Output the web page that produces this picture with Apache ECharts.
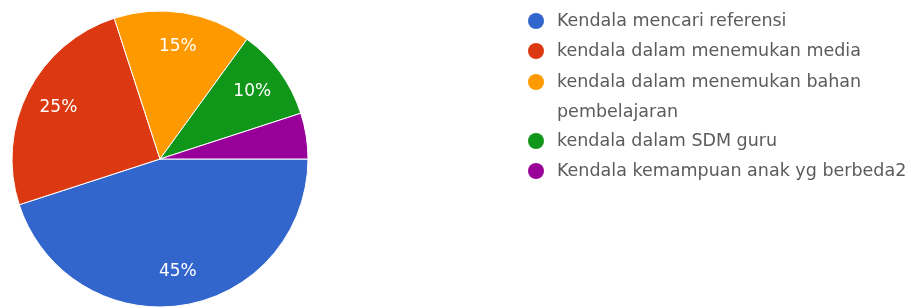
<!DOCTYPE html>
<html>
<head>
<meta charset="utf-8">
<script src="https://cdn.jsdelivr.net/npm/echarts@6/dist/echarts.min.js"></script>
<style>
html,body{margin:0;padding:0;background:#fff;}
#chart{width:908px;height:307px;}
</style>
</head>
<body>
<div id="chart"></div>
<script>
const categories = [
  'Kendala mencari referensi',
  'kendala dalam menemukan media',
  'kendala dalam menemukan bahan\npembelajaran',
  'kendala dalam SDM guru',
  'Kendala kemampuan anak yg berbeda2'
];
const values = [45, 25, 15, 10, 5];
const colors = ['#3366cc', '#dc3912', '#ff9900', '#109618', '#990099'];

const FONT = 'DejaVu Sans';
const legendCenters = [21, 51, 82, 141, 171];

const legends = categories.map((name, i) => {
  const multi = name.indexOf('\n') >= 0;
  const lh = multi ? 30 : 20;
  return {
    data: [name],
    orient: 'vertical',
    left: 528,
    top: multi ? legendCenters[i] - 45 : legendCenters[i] - lh / 2,
    icon: 'circle',
    itemWidth: 16,
    itemHeight: 16,
    padding: 0,
    itemStyle: { borderWidth: 0 },
    selectedMode: false,
    formatter: multi ? (n => '\n' + n) : (n => n),
    textStyle: {
      fontFamily: FONT,
      fontSize: 17.5,
      color: '#5b5b5b',
      lineHeight: lh,
      padding: [0, 0, 0, 8]
    }
  };
});

const mainData = categories.map((name, i) => ({
  name: name,
  value: values[i],
  itemStyle: { color: colors[i] }
}));

const labelData = categories.map((name, i) => ({
  name: name,
  value: values[i],
  label: { show: values[i] >= 10 }
}));

const chart = echarts.init(document.getElementById('chart'), null, { renderer: 'canvas' });
chart.setOption({
  animation: false,
  backgroundColor: '#ffffff',
  color: colors,
  legend: legends,
  series: [
    {
      type: 'pie',
      center: [160, 159],
      radius: [0, 148],
      startAngle: 0,
      clockwise: true,
      avoidLabelOverlap: false,
      label: { show: false },
      labelLine: { show: false },
      itemStyle: { borderColor: '#ffffff', borderWidth: 1 },
      emphasis: { disabled: true },
      data: mainData
    },
    {
      type: 'pie',
      center: [160, 159],
      radius: [74, 148],
      startAngle: 0,
      clockwise: true,
      silent: true,
      avoidLabelOverlap: false,
      legendHoverLink: false,
      itemStyle: { color: 'rgba(0,0,0,0)', borderWidth: 0 },
      label: {
        position: 'inside',
        formatter: '{d}%',
        color: '#ffffff',
        fontFamily: FONT,
        fontSize: 17,
        textBorderWidth: 0
      },
      labelLine: { show: false },
      emphasis: { disabled: true },
      data: labelData
    }
  ]
});
</script>
</body>
</html>
